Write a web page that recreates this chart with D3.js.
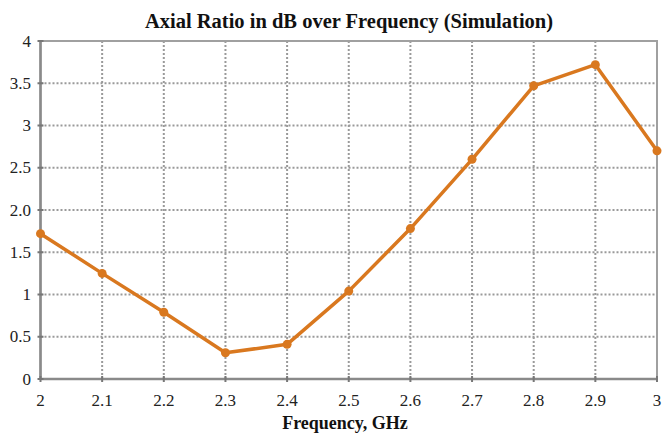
<!DOCTYPE html>
<html><head><meta charset="utf-8">
<script src="https://cdn.jsdelivr.net/npm/d3@7"></script>
<style>body{margin:0;background:#fff}svg{display:block}</style>
</head><body>
<script>
const frequencies = [2.0, 2.1, 2.2, 2.3, 2.4, 2.5, 2.6, 2.7, 2.8, 2.9, 3.0];
const axialRatio = [1.72, 1.25, 0.79, 0.31, 0.41, 1.04, 1.78, 2.60, 3.47, 3.72, 2.70];
const yTicks = [0, 0.5, 1, 1.5, 2, 2.5, 3, 3.5, 4];
const yTickLabels = ["0", "0.5", "1", "1.5", "2.0", "2.5", "3", "3.5", "4"];
const xTickLabels = ["2", "2.1", "2.2", "2.3", "2.4", "2.5", "2.6", "2.7", "2.8", "2.9", "3"];
const title = "Axial Ratio in dB over Frequency (Simulation)";
const xTitle = "Frequency, GHz";

const W = 667, H = 434;
const m = {left: 40.5, right: 10, top: 41, bottom: 55};
const svg = d3.select("body").append("svg").attr("width", W).attr("height", H);
const x = d3.scaleLinear().domain([2, 3]).range([m.left, W - m.right]);
const y = d3.scaleLinear().domain([0, 4]).range([H - m.bottom, m.top]);
const font = "'Liberation Serif', 'Times New Roman', serif";

// grid
const g = svg.append("g");
g.selectAll("line.gy").data(yTicks.slice(1, -1)).join("line")
  .attr("x1", x(2)).attr("x2", x(3)).attr("y1", d => y(d)).attr("y2", d => y(d))
  .attr("stroke", "#9a9a9a").attr("stroke-width", 2).attr("stroke-dasharray", "2,2");
g.selectAll("line.gx").data(frequencies.slice(1, -1)).join("line")
  .attr("y1", y(0)).attr("y2", y(4)).attr("x1", d => x(d)).attr("x2", d => x(d))
  .attr("stroke", "#9a9a9a").attr("stroke-width", 2).attr("stroke-dasharray", "2,2");

// frame
svg.append("rect").attr("x", x(2)).attr("y", y(4)).attr("width", x(3) - x(2)).attr("height", y(0) - y(4))
  .attr("fill", "none").attr("stroke", "#a0a0a0").attr("stroke-width", 2);
svg.append("line").attr("x1", x(2)).attr("x2", x(2)).attr("y1", y(4)).attr("y2", y(0)).attr("stroke", "#8a8a8a").attr("stroke-width", 2.5);
svg.append("line").attr("x1", x(2)).attr("x2", x(3)).attr("y1", y(0)).attr("y2", y(0)).attr("stroke", "#8a8a8a").attr("stroke-width", 2.5);

// tick marks
svg.selectAll("line.ty").data(yTicks).join("line")
  .attr("x1", x(2) - 3).attr("x2", x(2) + 3).attr("y1", d => y(d)).attr("y2", d => y(d))
  .attr("stroke", "#777").attr("stroke-width", 2);
svg.selectAll("line.tx").data(frequencies).join("line")
  .attr("y1", y(0) - 3).attr("y2", y(0) + 3).attr("x1", d => x(d)).attr("x2", d => x(d))
  .attr("stroke", "#777").attr("stroke-width", 2);

// axis labels
svg.selectAll("text.yl").data(yTicks).join("text")
  .attr("x", 31).attr("y", d => y(d)).attr("dy", "0.33em").attr("text-anchor", "end")
  .attr("font-family", font).attr("font-size", 17).attr("fill", "#222")
  .text((d, i) => yTickLabels[i]);
svg.selectAll("text.xl").data(frequencies).join("text")
  .attr("x", d => x(d)).attr("y", 406).attr("text-anchor", "middle")
  .attr("font-family", font).attr("font-size", 17).attr("fill", "#222")
  .text((d, i) => xTickLabels[i]);

// title
svg.append("text").attr("x", 349).attr("y", 28).attr("text-anchor", "middle")
  .attr("font-family", font).attr("font-size", 20.5).attr("font-weight", "bold").attr("fill", "#111")
  .text(title);
svg.append("text").attr("x", 345).attr("y", 429).attr("text-anchor", "middle")
  .attr("font-family", font).attr("font-size", 18).attr("font-weight", "bold").attr("fill", "#111")
  .text(xTitle);

// line
const pts = frequencies.map((f, i) => [f, axialRatio[i]]);
svg.append("path").datum(pts)
  .attr("d", d3.line().x(d => x(d[0])).y(d => y(d[1])))
  .attr("fill", "none").attr("stroke", "#d9781f").attr("stroke-width", 3.5).attr("stroke-linejoin", "round");
svg.selectAll("circle").data(pts).join("circle")
  .attr("cx", d => x(d[0])).attr("cy", d => y(d[1])).attr("r", 4.5).attr("fill", "#d9781f");
</script>
</body></html>
